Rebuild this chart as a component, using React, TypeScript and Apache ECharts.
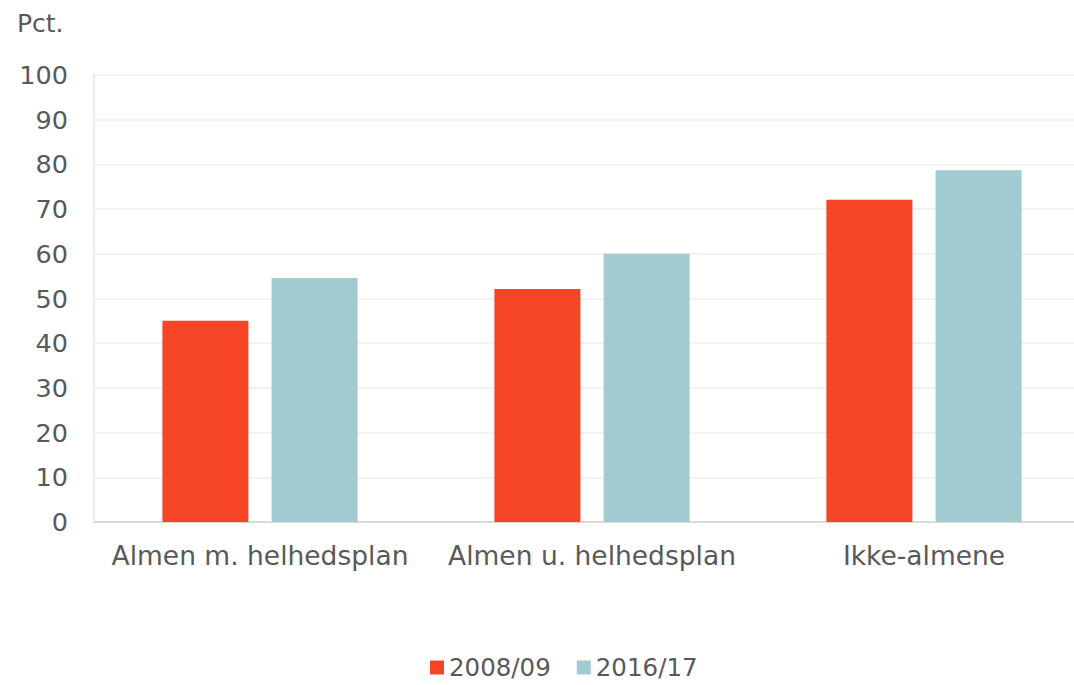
import React, { useEffect, useRef } from "react";
import * as echarts from "echarts";

const categories = ["Almen m. helhedsplan", "Almen u. helhedsplan", "Ikke-almene"];
const series2008 = [45.0, 52.1, 72.1];
const series2016 = [54.6, 60.0, 78.7];
const seriesNames = ["2008/09", "2016/17"];
const yTicks = { min: 0, max: 100, interval: 10 };

export default function App() {
  const ref = useRef<HTMLDivElement>(null);
  useEffect(() => {
    document.body.style.margin = "0";
    const chart = echarts.init(ref.current!, null, { renderer: "svg" });
    const font = "DejaVu Sans, Verdana, sans-serif";
    chart.setOption({
      animation: false,
      textStyle: { fontFamily: font, color: "#595959" },
      grid: { left: 94, top: 75, width: 996, height: 447, outerBoundsMode: "none", containLabel: false },
      legend: {
        left: 425,
        top: 650,
        itemWidth: 14,
        itemHeight: 14,
        itemGap: 26,
        icon: "rect",
        textStyle: { fontSize: 24.5, color: "#595959", fontFamily: font },
        data: seriesNames,
      },
      graphic: [
        { type: "text", left: 17, top: 11, style: { text: "Pct.", fontSize: 25, fill: "#595959", fontFamily: font } },
      ],
      xAxis: {
        type: "category",
        data: categories,
        axisLine: { lineStyle: { color: "#d9d9d9", width: 2 } },
        axisTick: { show: false },
        axisLabel: { fontSize: 26.5, color: "#595959", margin: 20, fontFamily: font, interval: 0, hideOverlap: false },
      },
      yAxis: {
        type: "value",
        min: yTicks.min,
        max: yTicks.max,
        interval: yTicks.interval,
        axisLine: { show: true, lineStyle: { color: "#eeeeee", width: 2 } },
        axisTick: { show: false },
        axisLabel: { fontSize: 25.5, color: "#595959", margin: 26, fontFamily: font },
        splitLine: { lineStyle: { color: "#f2f2f2", width: 2 } },
      },
      series: [
        {
          name: seriesNames[0],
          type: "bar",
          data: series2008,
          barWidth: 86,
          barGap: "27%",
          itemStyle: { color: "#F64427" },
        },
        {
          name: seriesNames[1],
          type: "bar",
          data: series2016,
          barWidth: 86,
          itemStyle: { color: "#A0CBD0" },
        },
      ],
    });
    return () => chart.dispose();
  }, []);
  return <div ref={ref} style={{ width: 1074, height: 685 }} />;
}
